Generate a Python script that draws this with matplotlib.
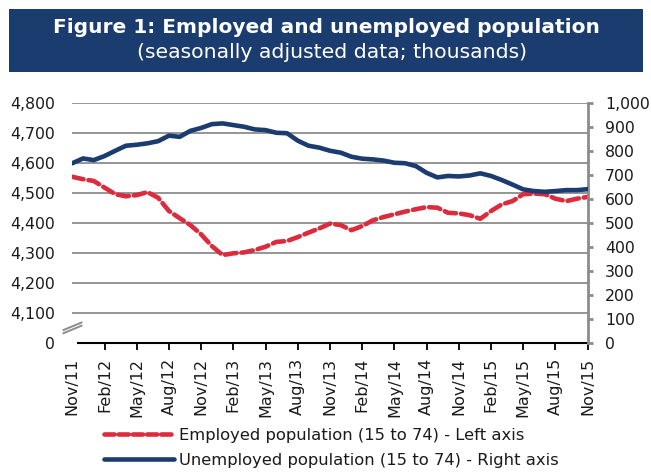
import matplotlib
matplotlib.use('Agg')
import matplotlib.pyplot as plt
from matplotlib.patches import Rectangle
from matplotlib.lines import Line2D

# ---------------- data ----------------
months = list(range(49))  # Nov/11 .. Nov/15 (monthly)
tick_labels = ["Nov/11", "Feb/12", "May/12", "Aug/12", "Nov/12", "Feb/13", "May/13",
               "Aug/13", "Nov/13", "Feb/14", "May/14", "Aug/14", "Nov/14", "Feb/15",
               "May/15", "Aug/15", "Nov/15"]
employed = [4554, 4546, 4540, 4518, 4496, 4489, 4493, 4503, 4484, 4440, 4416, 4393,
            4362, 4323, 4293, 4299, 4302, 4310, 4321, 4337, 4340, 4353, 4368, 4382,
            4398, 4393, 4376, 4390, 4409, 4420, 4429, 4438, 4446, 4453, 4451, 4434,
            4432, 4426, 4414, 4440, 4462, 4473, 4496, 4498, 4496, 4481, 4473, 4481,
            4487]
unemployed = [749, 769, 762, 779, 801, 822, 826, 832, 841, 864, 859, 884,
              896, 912, 915, 908, 901, 890, 887, 876, 874, 843, 822, 814,
              801, 793, 776, 768, 765, 760, 751, 749, 737, 709, 690, 696,
              694, 698, 707, 696, 679, 660, 640, 633, 630, 633, 637, 637,
              641]
left_ticks = [4000, 4100, 4200, 4300, 4400, 4500, 4600, 4700, 4800]
left_labels = ["0", "4,100", "4,200", "4,300", "4,400", "4,500", "4,600", "4,700", "4,800"]
right_ticks = [0, 100, 200, 300, 400, 500, 600, 700, 800, 900, 1000]
right_labels = ["0", "100", "200", "300", "400", "500", "600", "700", "800", "900", "1,000"]
title = "Figure 1: Employed and unemployed population"
subtitle = "(seasonally adjusted data; thousands)"
legend_labels = ["Employed population (15 to 74) - Left axis",
                 "Unemployed population (15 to 74) - Right axis"]

# ---------------- style ----------------
NAVY = '#1b3c6e'
RED = '#dc2b3c'
GRID = '#8c8c8c'
TXT = '#1a1a1a'
plt.rcParams['font.family'] = ['DejaVu Sans']

W, H = 651, 474
fig = plt.figure(figsize=(W / 100, H / 100), dpi=100)
fx = lambda px: px / W
fy = lambda py: 1 - py / H

# title box
fig.patches.append(Rectangle((fx(9), fy(72)), (643 - 9) / W, 63 / H,
                             transform=fig.transFigure, facecolor=NAVY,
                             edgecolor='none', zorder=0))
t1 = fig.text(fx(326), fy(32.7), title, ha='center', va='baseline', color='white',
              fontweight='bold', fontsize=16)
t2 = fig.text(fx(332), fy(57.5), subtitle, ha='center', va='baseline', color='white',
              fontsize=13)
fig.canvas.draw()
r = fig.canvas.get_renderer()
t1.set_fontsize(16 * 545 / t1.get_window_extent(r).width)
t2.set_fontsize(13 * 390 / t2.get_window_extent(r).width)

# axes
x0, x1, ytop, ybot = 72.3, 587.7, 103, 343
ax = fig.add_axes([fx(x0), fy(ybot), (x1 - x0) / W, (ybot - ytop) / H])
ax.set_xlim(0, 48)
ax.set_ylim(4000, 4800)
ax.set_yticks(left_ticks)
ax.set_yticklabels(left_labels)
ax.yaxis.grid(True, color=GRID, lw=1.3)
ax.set_axisbelow(True)
ax.get_ygridlines()[0].set_visible(False)
ax.tick_params(axis='y', length=0, pad=12.5, labelsize=11.3, labelcolor=TXT)
for s in ['left', 'top', 'right']:
    ax.spines[s].set_visible(False)
ax.spines['bottom'].set_color('black')
ax.spines['bottom'].set_linewidth(1.5)
ax.spines['bottom'].set_bounds(0.52, 48)
ax.set_xticks(list(range(0, 49, 3)))
ax.set_xticklabels(tick_labels, rotation=90)
ax.tick_params(axis='x', length=4.8, width=1.3, color='black', pad=6,
               labelsize=11.5, labelcolor=TXT)
ax.xaxis.get_major_ticks()[0].tick1line.set_visible(False)

ax.plot(months, employed, color=RED, lw=3.3, dashes=(2.5, 1.1),
        dash_capstyle='round', zorder=3)

ax2 = ax.twinx()
ax2.set_ylim(0, 1000)
ax2.set_yticks(right_ticks)
ax2.set_yticklabels(right_labels)
for s in ['left', 'top', 'bottom']:
    ax2.spines[s].set_visible(False)
ax2.spines['right'].set_color(GRID)
ax2.spines['right'].set_linewidth(2)
ax2.tick_params(axis='y', length=3.8, width=2, color=GRID, pad=8.5,
                labelsize=11.3, labelcolor=TXT)
ax2.plot(months, unemployed, color=NAVY, lw=3.3, solid_capstyle='round', zorder=3)

# axis break marks
for dy in (0, 3.2):
    fig.add_artist(Line2D([fx(63.5), fx(81.5)], [fy(333 + dy - 3), fy(325.5 + dy - 3)],
                          transform=fig.transFigure, color=GRID, lw=1.4))

# legend
handles = [Line2D([], [], color=RED, lw=3.3, dashes=(2.2, 0.9), dash_capstyle='round'),
           Line2D([], [], color=NAVY, lw=3.3, solid_capstyle='round')]
fig.legend(handles, legend_labels, loc='upper left', bbox_to_anchor=(fx(104), fy(428)),
           frameon=False, fontsize=11.8, handlelength=4.3, handletextpad=0.3,
           labelspacing=0.62, borderpad=0, borderaxespad=0, labelcolor=TXT)

fig.savefig('out.png', dpi=100)
